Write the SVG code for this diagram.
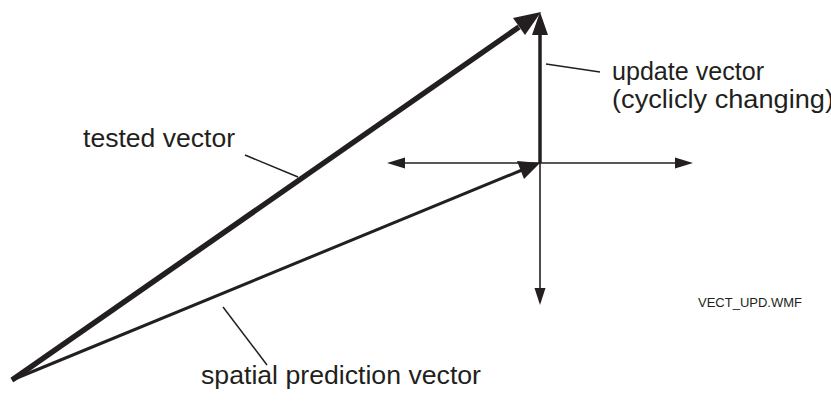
<svg xmlns="http://www.w3.org/2000/svg" width="831" height="401" viewBox="0 0 831 401">
<style>
.ln{stroke:#231f20;fill:none;stroke-linecap:butt}
.hd{fill:#231f20;stroke:none}
.lbl{font-family:"Liberation Sans",Arial,sans-serif;font-size:26px;fill:#231f20}
.sm{font-family:"Liberation Sans",Arial,sans-serif;font-size:13px;fill:#231f20}
.ld{stroke:#231f20;stroke-width:1.5;fill:none}
</style>
<rect width="831" height="401" fill="#ffffff"/>
<g id="connectors">
  <line class="ln" x1="12" y1="380" x2="519" y2="27" stroke-width="5.5" stroke-linecap="round"/>
  <polygon class="hd" points="541,12 525,35 513,18"/>
  <line class="ln" x1="12" y1="380" x2="522" y2="170" stroke-width="3"/>
  <polygon class="hd" points="540,163 524,179 517,161"/>
  <line class="ln" x1="540" y1="163" x2="540" y2="32" stroke-width="3.5"/>
  <polygon class="hd" points="540,12 548,35 532,35"/>
  <line class="ln" x1="402" y1="163" x2="678" y2="163" stroke-width="1.6"/>
  <polygon class="hd" points="387,163 405,157.5 405,168.5"/>
  <polygon class="hd" points="693,163 675,157.5 675,168.5"/>
  <line class="ln" x1="540" y1="163" x2="540" y2="292" stroke-width="1.6"/>
  <polygon class="hd" points="540,305 534.5,288 545.5,288"/>
  <line class="ld" x1="546" y1="64" x2="600" y2="72"/>
  <line class="ld" x1="245" y1="155" x2="298" y2="177"/>
  <line class="ld" x1="223" y1="307" x2="267" y2="365"/>
</g>
<g id="label-update">
  <text class="lbl" x="612" y="80" textLength="152" lengthAdjust="spacingAndGlyphs">update vector</text>
  <text class="lbl" x="612" y="108" textLength="222" lengthAdjust="spacingAndGlyphs">(cyclicly changing)</text>
</g>
<g id="label-tested">
  <text class="lbl" x="83" y="147" textLength="152" lengthAdjust="spacingAndGlyphs">tested vector</text>
</g>
<g id="label-spatial">
  <text class="lbl" x="201" y="384" textLength="280" lengthAdjust="spacingAndGlyphs">spatial prediction vector</text>
</g>
<g id="label-file">
  <text class="sm" x="698" y="307">VECT_UPD.WMF</text>
</g>
</svg>
